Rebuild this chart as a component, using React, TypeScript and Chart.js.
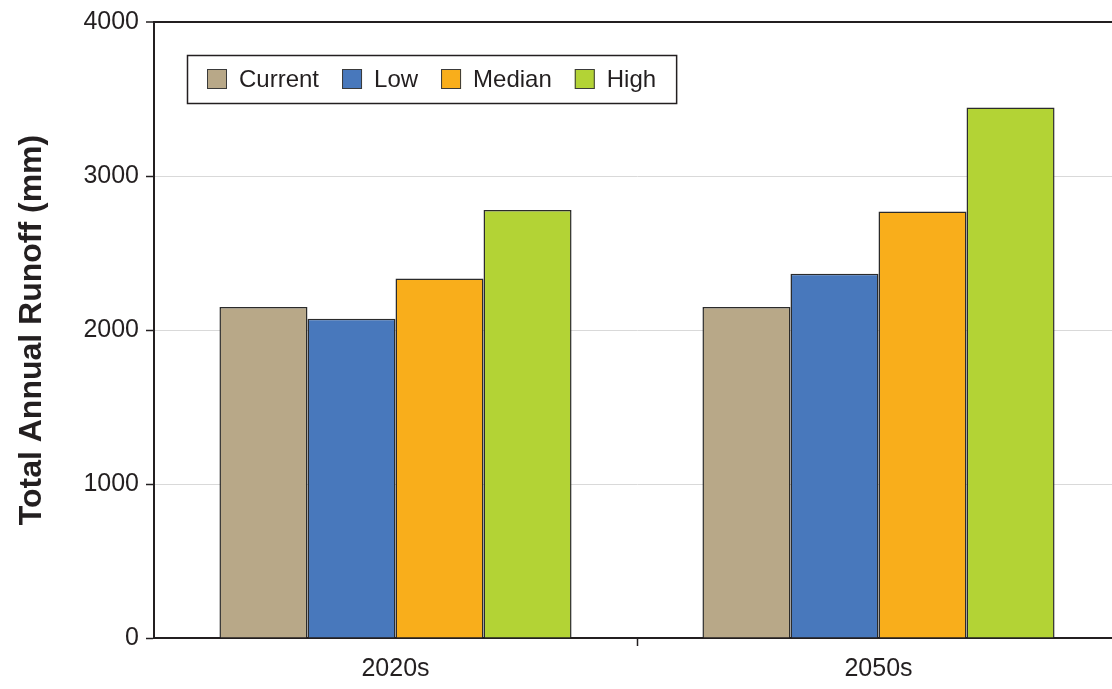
import React, { useEffect, useRef } from "react";
import { Chart, registerables } from "chart.js";

Chart.register(...registerables);

const categories = ["2020s", "2050s"];
const seriesNames = ["Current", "Low", "Median", "High"];
const currentValues = [2150, 2150];
const lowValues = [2073, 2365];
const medianValues = [2335, 2770];
const highValues = [2780, 3445];
const yTicks = [0, 1000, 2000, 3000, 4000];
const seriesColors = ["#b8a888", "#4878bc", "#f9ae1b", "#b3d335"];

const DARK = "#231f20";
const FONT = "'Liberation Sans', Arial, Helvetica, sans-serif";

const boxLegend = {
  id: "boxLegend",
  afterDatasetsDraw(chart: any) {
    const ctx = chart.ctx;
    const boxLeft = 187;
    const boxTop = 55;
    const boxH = 48;
    const sw = 20;
    const gap = 23;
    ctx.save();
    ctx.font = `24px ${FONT}`;
    const items = chart.data.datasets.map((d: any) => ({
      label: d.label,
      color: d.backgroundColor,
      w: ctx.measureText(d.label).width,
    }));
    let total = 20;
    items.forEach((it: any, i: number) => {
      total += sw + 12 + it.w + (i < items.length - 1 ? gap : 20);
    });
    ctx.fillStyle = "#ffffff";
    ctx.fillRect(boxLeft, boxTop, total, boxH);
    ctx.strokeStyle = DARK;
    ctx.lineWidth = 1.5;
    ctx.strokeRect(boxLeft + 0.5, boxTop + 0.5, total, boxH);
    let x = boxLeft + 20;
    const cy = boxTop + boxH / 2;
    items.forEach((it: any) => {
      ctx.fillStyle = it.color;
      ctx.fillRect(x, cy - sw / 2, sw, sw);
      ctx.strokeStyle = "#3a3a3a";
      ctx.lineWidth = 1;
      ctx.strokeRect(x + 0.5, cy - sw / 2 + 0.5, sw - 1, sw - 1);
      x += sw + 12;
      ctx.fillStyle = DARK;
      ctx.textBaseline = "middle";
      ctx.textAlign = "left";
      ctx.fillText(it.label, x, cy + 1);
      x += it.w + gap;
    });
    ctx.restore();
  },
};

export default function App() {
  const ref = useRef<HTMLCanvasElement | null>(null);

  useEffect(() => {
    if (!ref.current) return;
    const valueSets = [currentValues, lowValues, medianValues, highValues];
    const chart = new Chart(ref.current, {
      type: "bar",
      data: {
        labels: categories,
        datasets: seriesNames.map((name, i) => ({
          label: name,
          data: valueSets[i],
          backgroundColor: seriesColors[i],
          borderColor: "#2b2b2b",
          borderWidth: 1.5,
          barPercentage: 1,
          categoryPercentage: 0.729,
        })),
      },
      options: {
        responsive: false,
        animation: false,
        devicePixelRatio: 1,
        layout: { padding: { top: 19, right: 0, bottom: 0, left: 0 } },
        plugins: {
          legend: { display: false },
          tooltip: { enabled: false },
        },
        scales: {
          x: {
            type: "category",
            offset: true,
            grid: {
              offset: true,
              drawOnChartArea: false,
              drawTicks: true,
              tickLength: 8,
              tickColor: (c: any) => (c.index === 1 ? DARK : "rgba(0,0,0,0)"),
              tickWidth: 1.5,
            },
            border: { display: true, color: DARK, width: 2 },
            ticks: {
              color: DARK,
              font: { family: FONT, size: 25 },
              padding: 8,
            },
            afterFit: (s: any) => {
              s.height = 51;
            },
          },
          y: {
            min: 0,
            max: 4000,
            afterBuildTicks: (s: any) => {
              s.ticks = yTicks.map((v) => ({ value: v }));
            },
            grid: {
              color: (c: any) =>
                c.tick && c.tick.value === 4000 ? DARK : "#d9d9d9",
              lineWidth: (c: any) => (c.tick && c.tick.value === 4000 ? 2 : 1),
              tickColor: DARK,
              tickLength: 8,
              tickWidth: 1.5,
            },
            border: { display: true, color: DARK, width: 2 },
            ticks: {
              color: DARK,
              font: { family: FONT, size: 25 },
              padding: 7,
              callback: (v: any) => String(v),
            },
            title: {
              display: true,
              text: "Total Annual Runoff (mm)",
              color: DARK,
              font: { family: FONT, size: 32, weight: "bold" },
              padding: { top: 13, bottom: 0 },
            },
            afterFit: (s: any) => {
              s.width = 154;
            },
          },
        },
      },
      plugins: [boxLegend],
    });
    return () => chart.destroy();
  }, []);

  return (
    <div
      style={{
        position: "fixed",
        left: 0,
        top: 0,
        width: 1112,
        height: 689,
        overflow: "hidden",
        background: "#ffffff",
      }}
    >
      <canvas
        ref={ref}
        width={1120}
        height={689}
        style={{ width: 1120, height: 689, display: "block" }}
      />
    </div>
  );
}
